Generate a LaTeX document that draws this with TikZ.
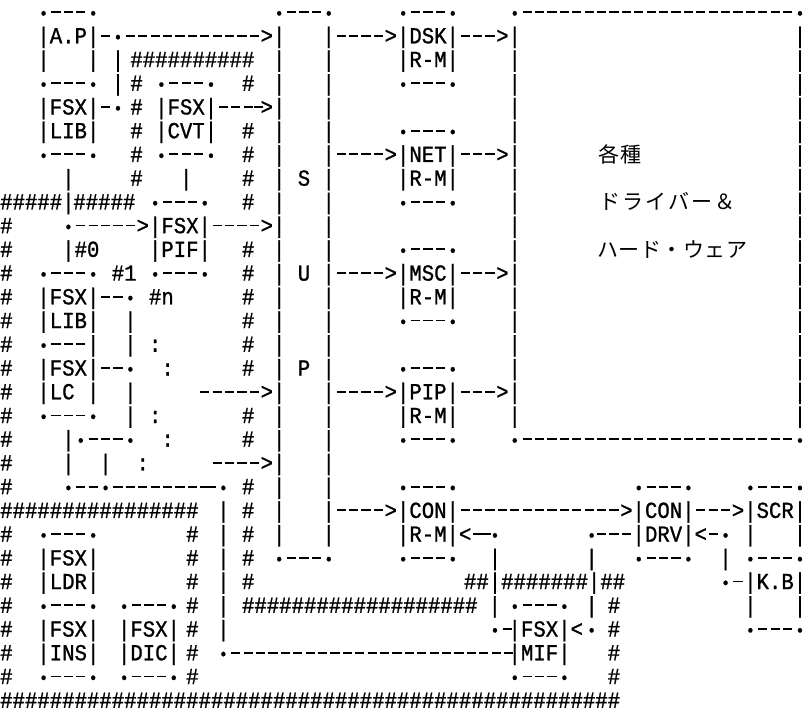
\documentclass[tikz,border=0pt]{standalone}
\usepackage{fontspec}
\setmonofont{Liberation Mono}[FakeStretch=0.9,FakeBold=1]
\newfontfamily\jpfont{Noto Sans CJK JP}
\frenchspacing
\newdimen\cw
\cw=12.4pt
\ExplSyntaxOn
\cs_new:Npn \Rp #1#2 { \prg_replicate:nn {#1} {#2} }
\ExplSyntaxOff
\newcommand\At[2]{\rlap{\kern#1\cw #2}}
\newcommand\Dt{\makebox[\cw][c]{\raisebox{0.6pt}{\fontsize{17pt}{17pt}\selectfont •}}}
\newcommand\Ds{\makebox[\cw][c]{\rule[6.7pt]{9.2pt}{1.8pt}}}
\catcode"2013=\active
\def–{\Ds}
\newcommand\Jc[2]{\makebox[#1][c]{#2}}
\tikzset{
  rowtxt/.style={anchor=base west, inner sep=0pt, font=\ttfamily\fontsize{22.96pt}{23.73pt}\selectfont},
  jptxt/.style={anchor=west, inner sep=0pt, font=\jpfont\fontsize{21pt}{21pt}\selectfont}
}
\newcommand\Row[2]{\node[rowtxt] (r#1) at (0,{19.6+23.73*#1}) {#2\kern64.6\cw};}
\begin{document}
\begin{tikzpicture}[x=1pt,y=-1pt]
\useasboundingbox (0,0) rectangle (806,714);
\fill[white] (0,0) rectangle (806,714);
\Row{0}{\At{3}{\Dt–––\Dt}\At{22}{\Dt–––\Dt}\At{32}{\Dt–––\Dt}\At{41}{\Dt\Rp{22}{–}\Dt}}
\Row{1}{\At{3}{|A.P|–\Dt\Rp{11}{–}>|}\At{26}{|––––>|DSK|–––>|}\At{64}{|}}
\Row{2}{\At{3}{|}\At{7}{|}\At{9}{|}\At{10.5}{\Rp{10}{\#}}\At{22}{|}\At{26}{|}\At{32}{|R-M|}\At{41}{|}\At{64}{|}}
\Row{3}{\At{3}{\Dt–––\Dt}\At{9}{|}\At{10.5}{\#}\At{12.5}{\Dt–––\Dt}\At{19.5}{\#}\At{22}{|}\At{26}{|}\At{32}{\Dt–––\Dt}\At{41}{|}\At{64}{|}}
\Row{4}{\At{3}{|FSX|–\Dt}\At{10.5}{\#}\At{12.5}{|FSX|–––}\At{20.3}{–}\At{21}{>|}\At{26}{|}\At{41}{|}\At{64}{|}}
\Row{5}{\At{3}{|LIB|}\At{10.5}{\#}\At{12.5}{|CVT|}\At{19.5}{\#}\At{22}{|}\At{26}{|}\At{32}{\Dt–––\Dt}\At{41}{|}\At{64}{|}}
\Row{6}{\At{3}{\Dt–––\Dt}\At{10.5}{\#}\At{12.5}{\Dt–––\Dt}\At{19.5}{\#}\At{22}{|}\At{26}{|––––>|NET|–––>|}\At{64}{|}}
\Row{7}{\At{5}{|}\At{10.5}{\#}\At{14.5}{|}\At{19.5}{\#}\At{22}{| S |}\At{32}{|R-M|}\At{41}{|}\At{64}{|}}
\Row{8}{\At{0}{\Rp{5}{\#}|}\At{5.9}{\Rp{5}{\#}}\At{12}{\Dt–––\Dt}\At{19.5}{\#}\At{22}{|}\At{26}{|}\At{32}{\Dt–––\Dt}\At{41}{|}\At{64}{|}}
\Row{9}{\At{0}{\#}\At{5}{\Dt–––––>|FSX|––––>|}\At{26}{|}\At{41}{|}\At{64}{|}}
\Row{10}{\At{0}{\#}\At{5}{|\#0}\At{12}{|PIF|}\At{19.5}{\#}\At{22}{|}\At{26}{|}\At{32}{\Dt–––\Dt}\At{41}{|}\At{64}{|}}
\Row{11}{\At{0}{\#}\At{3}{\Dt–––\Dt}\At{9}{\#1}\At{12}{\Dt–––\Dt}\At{19.5}{\#}\At{22}{| U |––––>|MSC|–––>|}\At{64}{|}}
\Row{12}{\At{0}{\#}\At{3}{|FSX|––\Dt}\At{12}{\#n}\At{19.5}{\#}\At{22}{|}\At{26}{|}\At{32}{|R-M|}\At{41}{|}\At{64}{|}}
\Row{13}{\At{0}{\#}\At{3}{|LIB|}\At{10}{|}\At{19.5}{\#}\At{22}{|}\At{26}{|}\At{32}{\Dt–––\Dt}\At{41}{|}\At{64}{|}}
\Row{14}{\At{0}{\#}\At{3}{\Dt–––|}\At{10}{| :}\At{19.5}{\#}\At{22}{|}\At{26}{|}\At{41}{|}\At{64}{|}}
\Row{15}{\At{0}{\#}\At{3}{|FSX|––\Dt}\At{13}{:}\At{19.5}{\#}\At{22}{| P |}\At{32}{\Dt–––\Dt}\At{41}{|}\At{64}{|}}
\Row{16}{\At{0}{\#}\At{3}{|LC |}\At{10}{|}\At{16}{–––––>|}\At{26}{|––––>|PIP|–––>|}\At{64}{|}}
\Row{17}{\At{0}{\#}\At{3}{\Dt–––\Dt}\At{10}{| :}\At{19.5}{\#}\At{22}{|}\At{26}{|}\At{32}{|R-M|}\At{41}{|}\At{64}{|}}
\Row{18}{\At{0}{\#}\At{5}{|\Dt–––\Dt}\At{13}{:}\At{19.5}{\#}\At{22}{|}\At{26}{|}\At{32}{\Dt–––\Dt}\At{41}{\Dt\Rp{22}{–}\Dt}}
\Row{19}{\At{0}{\#}\At{5}{|}\At{8}{|}\At{11}{:}\At{17}{––––>|}\At{26}{|}}
\Row{20}{\At{0}{\#}\At{5}{\Dt––\Dt\Rp{8}{–}}\At{16.5}{–}\At{17.5}{\Dt}\At{19.5}{\#}\At{22}{|}\At{26}{|}\At{32}{\Dt–––\Dt}\At{51}{\Dt–––\Dt}\At{60}{\Dt–––\Dt}}
\Row{21}{\At{0}{\Rp{16}{\#}}\At{17.5}{|}\At{19.5}{\#}\At{22}{|}\At{26}{|––––>|CON|\Rp{13}{–}>|CON|–––>|SCR|}}
\Row{22}{\At{0}{\#}\At{3}{\Dt–––\Dt}\At{15}{\#}\At{17.5}{|}\At{19.5}{\#}\At{22}{|}\At{26}{|}\At{32}{|R-M|<–}\At{38.7}{–}\At{39.4}{\Dt}\At{47.2}{\Dt}\At{48}{–––|DRV|<–\Dt}\At{60}{|}\At{64}{|}}
\Row{23}{\At{0}{\#}\At{3}{|FSX|}\At{15}{\#}\At{17.5}{|}\At{19.5}{\#}\At{22}{\Dt–––\Dt}\At{32}{\Dt–––\Dt}\At{39.4}{|}\At{47.2}{|}\At{51}{\Dt–––\Dt}\At{58}{| \Dt–––\Dt}}
\Row{24}{\At{0}{\#}\At{3}{|LDR|}\At{15}{\#}\At{17.5}{|}\At{19.5}{\#}\At{37.4}{\#\#|\Rp{7}{\#}|\#\#}\At{58}{\Dt–|K.B|}}
\Row{25}{\At{0}{\#}\At{3}{\Dt–––\Dt}\At{9.5}{\Dt–––\Dt}\At{15}{\#}\At{17.5}{|}\At{19.5}{\Rp{19}{\#}}\At{39.4}{|}\At{41}{\Dt–––\Dt}\At{47.2}{|}\At{49}{\#}\At{60}{|}\At{64}{|}}
\Row{26}{\At{0}{\#}\At{3}{|FSX|}\At{9.5}{|FSX|}\At{15}{\#}\At{17.5}{|}\At{39.4}{\Dt–}\At{41}{|FSX|<}\At{47.2}{\Dt}\At{49}{\#}\At{60}{\Dt–––\Dt}}
\Row{27}{\At{0}{\#}\At{3}{|INS|}\At{9.5}{|DIC|}\At{15}{\#}\At{17.5}{\Dt\Rp{23}{–}}\At{41}{|MIF|}\At{49}{\#}}
\Row{28}{\At{0}{\#}\At{3}{\Dt–––\Dt}\At{9.5}{\Dt–––\Dt}\At{15}{\#}\At{41}{\Dt–––\Dt}\At{49}{\#}}
\Row{29}{\At{0}{\Rp{50}{\#}}}
\node[jptxt] (j1) at (598,154.4) {\Jc{22pt}{各}\Jc{22pt}{種}};
\node[jptxt] (j2) at (598.5,201.8) {\Jc{23pt}{ド}\Jc{23pt}{ラ}\Jc{23pt}{イ}\Jc{23pt}{バ}\Jc{23pt}{ー}\Jc{23pt}{＆}};
\node[jptxt] (j3) at (597,249.3) {\Jc{21.5pt}{ハ}\Jc{21.5pt}{ー}\Jc{21.5pt}{ド}\Jc{21.5pt}{・}\Jc{21.5pt}{ウ}\Jc{21.5pt}{ェ}\Jc{21.5pt}{ア}};
\end{tikzpicture}
\end{document}
